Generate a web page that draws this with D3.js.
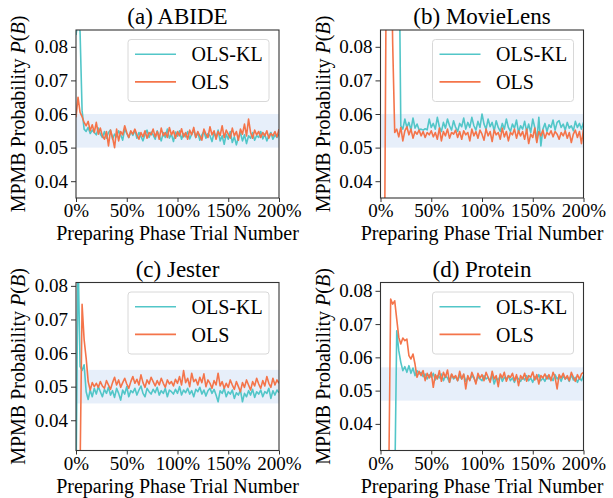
<!DOCTYPE html>
<html>
<head>
<meta charset="utf-8">
<script src="https://cdn.jsdelivr.net/npm/d3@7"></script>
<style>
  body { margin: 0; background: #fff; }
  svg { display: block; font-family: "Liberation Serif", "Times New Roman", serif; }
</style>
</head>
<body>
<div id="vis"></div>
<script>
// trial number as % of preparing phase, one reading every 2%
const trialPct = d3.range(0, 201, 2);
const xTicks = [0, 50, 100, 150, 200];
const seriesNames = ['OLS-KL', 'OLS'];
const titles = ['(a) ABIDE', '(b) MovieLens', '(c) Jester', '(d) Protein'];

// y ranges, shaded bands and ticks per panel
const yDomains = [[0.035, 0.085], [0.035, 0.085], [0.031, 0.081], [0.032, 0.0825]];
const bands = [[0.05, 0.06], [0.05, 0.06], [0.045, 0.055], [0.047, 0.057]];
const yTicks = [0.04, 0.05, 0.06, 0.07, 0.08];

const abideKL = [
  .0835, .0880, .0845, .0610, .0555, .0548, .0560, .0542, .0552, .0545,
  .0538, .0558, .0540, .0530, .0548, .0528, .0545, .0552, .0525, .0540,
  .0532, .0550, .0538, .0522, .0556, .0542, .0530, .0548, .0536, .0552,
  .0528, .0545, .0533, .0520, .0540, .0552, .0530, .0546, .0538, .0525,
  .0550, .0535, .0520, .0545, .0530, .0555, .0528, .0540, .0518, .0546,
  .0534, .0550, .0525, .0542, .0532, .0548, .0526, .0540, .0552, .0530,
  .0545, .0522, .0538, .0548, .0528, .0542, .0535, .0518, .0545, .0530,
  .0552, .0520, .0535, .0510, .0540, .0525, .0548, .0515, .0532, .0508,
  .0530, .0545, .0520, .0538, .0512, .0535, .0528, .0545, .0522, .0536,
  .0530, .0548, .0526, .0540, .0520, .0535, .0545, .0525, .0538, .0530,
  .0540];
const abideOLS = [
  .0590, .0650, .0605, .0592, .0575, .0565, .0578, .0550, .0568, .0545,
  .0575, .0540, .0558, .0535, .0525, .0548, .0505, .0552, .0530, .0500,
  .0555, .0520, .0548, .0538, .0565, .0545, .0530, .0550, .0540, .0555,
  .0538, .0525, .0545, .0532, .0550, .0528, .0545, .0538, .0555, .0532,
  .0548, .0525, .0558, .0535, .0545, .0530, .0560, .0538, .0550, .0528,
  .0548, .0535, .0556, .0532, .0545, .0525, .0552, .0538, .0560, .0530,
  .0548, .0535, .0522, .0555, .0540, .0530, .0562, .0538, .0550, .0525,
  .0548, .0536, .0565, .0530, .0552, .0540, .0528, .0558, .0535, .0548,
  .0522, .0555, .0540, .0570, .0535, .0585, .0545, .0528, .0552, .0538,
  .0548, .0530, .0545, .0535, .0550, .0528, .0542, .0535, .0548, .0532,
  .0555];

const movieKL = [
  .1200, .1200, .1200, .1200, .1200, .1200, .1200, .1200, .1200, .1200,
  .0565, .0555, .0585, .0560, .0575, .0552, .0588, .0558, .0570, .0553,
  .0555, .0552, .0556, .0553, .0585, .0560, .0572, .0555, .0590, .0562,
  .0548, .0575, .0558, .0585, .0565, .0552, .0580, .0560, .0548, .0572,
  .0562, .0588, .0555, .0575, .0560, .0590, .0565, .0552, .0578, .0560,
  .0600, .0570, .0555, .0585, .0562, .0575, .0550, .0580, .0560, .0548,
  .0572, .0555, .0585, .0560, .0548, .0570, .0558, .0582, .0545, .0565,
  .0555, .0578, .0548, .0570, .0545, .0585, .0560, .0520, .0590, .0505,
  .0555, .0572, .0548, .0568, .0560, .0582, .0552, .0575, .0580, .0560,
  .0570, .0552, .0575, .0558, .0565, .0550, .0578, .0560, .0572, .0555,
  .0575];
const movieOLS = [
  .0200, .0200, .0200, .1200, .1200, .1200, .0810, .0545, .0555, .0532,
  .0560, .0520, .0550, .0562, .0538, .0555, .0528, .0548, .0540, .0552,
  .0535, .0548, .0530, .0545, .0538, .0550, .0532, .0545, .0525, .0558,
  .0520, .0548, .0535, .0555, .0528, .0545, .0540, .0552, .0530, .0548,
  .0525, .0550, .0538, .0545, .0520, .0555, .0535, .0548, .0528, .0552,
  .0540, .0522, .0555, .0535, .0548, .0518, .0552, .0538, .0545, .0525,
  .0558, .0532, .0548, .0520, .0545, .0538, .0555, .0528, .0550, .0535,
  .0548, .0525, .0555, .0512, .0540, .0530, .0558, .0515, .0548, .0535,
  .0552, .0528, .0545, .0538, .0550, .0532, .0548, .0540, .0525, .0545,
  .0535, .0550, .0528, .0545, .0515, .0540, .0552, .0530, .0548, .0512,
  .0555];

const jesterKL = [
  .0200, .0900, .0560, .0548, .0565, .0485, .0462, .0490, .0470, .0495,
  .0478, .0500, .0485, .0470, .0492, .0480, .0498, .0475, .0488, .0468,
  .0495, .0480, .0460, .0490, .0478, .0500, .0470, .0488, .0482, .0495,
  .0475, .0490, .0502, .0480, .0470, .0495, .0485, .0478, .0492, .0482,
  .0498, .0475, .0488, .0480, .0495, .0470, .0490, .0485, .0478, .0492,
  .0480, .0500, .0475, .0490, .0482, .0495, .0478, .0488, .0470, .0492,
  .0485, .0498, .0478, .0490, .0472, .0488, .0495, .0480, .0492, .0475,
  .0455, .0488, .0480, .0495, .0470, .0485, .0478, .0490, .0465, .0482,
  .0475, .0490, .0455, .0480, .0470, .0488, .0475, .0492, .0468, .0485,
  .0478, .0490, .0470, .0485, .0480, .0495, .0465, .0488, .0475, .0490,
  .0482];
const jesterOLS = [
  .0200, .0200, .0250, .0745, .0640, .0585, .0515, .0490, .0512, .0500,
  .0510, .0498, .0515, .0502, .0495, .0518, .0505, .0492, .0512, .0528,
  .0505, .0520, .0498, .0512, .0525, .0508, .0495, .0515, .0530, .0510,
  .0522, .0505, .0535, .0512, .0498, .0520, .0508, .0528, .0515, .0502,
  .0518, .0505, .0525, .0510, .0498, .0520, .0508, .0515, .0502, .0522,
  .0510, .0530, .0505, .0548, .0512, .0525, .0500, .0540, .0515, .0522,
  .0505, .0528, .0512, .0538, .0500, .0520, .0510, .0495, .0518, .0505,
  .0540, .0502, .0515, .0495, .0510, .0498, .0520, .0505, .0492, .0515,
  .0500, .0485, .0512, .0498, .0520, .0505, .0490, .0515, .0502, .0525,
  .0508, .0495, .0518, .0502, .0530, .0510, .0498, .0525, .0505, .0520,
  .0510];

const proteinKL = [
  .0200, .0200, .0200, .0200, .0200, .0200, .0200, .0200, .0680, .0620,
  .0585, .0560, .0572, .0555, .0575, .0552, .0568, .0545, .0560, .0550,
  .0555, .0542, .0550, .0535, .0548, .0540, .0552, .0532, .0545, .0538,
  .0550, .0530, .0545, .0538, .0525, .0548, .0535, .0542, .0530, .0545,
  .0535, .0548, .0528, .0540, .0532, .0545, .0538, .0525, .0542, .0535,
  .0530, .0545, .0535, .0540, .0528, .0548, .0520, .0538, .0532, .0545,
  .0528, .0540, .0535, .0545, .0530, .0538, .0525, .0542, .0535, .0528,
  .0540, .0532, .0545, .0530, .0538, .0525, .0542, .0535, .0548, .0530,
  .0538, .0528, .0545, .0535, .0540, .0530, .0548, .0535, .0542, .0528,
  .0545, .0535, .0540, .0528, .0548, .0532, .0540, .0525, .0538, .0530,
  .0545];
const proteinOLS = [
  .0200, .0200, .0200, .0200, .0200, .0775, .0760, .0770, .0715, .0660,
  .0640, .0658, .0650, .0655, .0605, .0595, .0610, .0580, .0540, .0558,
  .0545, .0560, .0530, .0552, .0538, .0555, .0510, .0548, .0535, .0560,
  .0528, .0555, .0540, .0562, .0525, .0550, .0538, .0545, .0530, .0558,
  .0535, .0550, .0505, .0545, .0530, .0555, .0540, .0520, .0552, .0538,
  .0548, .0530, .0555, .0540, .0525, .0558, .0535, .0545, .0512, .0550,
  .0538, .0555, .0528, .0545, .0540, .0552, .0530, .0548, .0515, .0545,
  .0535, .0552, .0528, .0545, .0540, .0556, .0532, .0548, .0520, .0545,
  .0538, .0550, .0535, .0548, .0530, .0555, .0540, .0505, .0548, .0538,
  .0552, .0535, .0545, .0530, .0555, .0540, .0528, .0548, .0535, .0550,
  .0555];

const panelSeries = [
  [abideKL, abideOLS],
  [movieKL, movieOLS],
  [jesterKL, jesterOLS],
  [proteinKL, proteinOLS]
];

const colors = ['#52c6c8', '#f4744a'];

const W = 613, H = 498;
const plotW = 203, plotH = 168;
const lefts = [76, 380.5];
const tops = [30, 282.5];

const svg = d3.select('#vis')
  .append('svg')
  .attr('width', W)
  .attr('height', H);

titles.forEach((title, i) => {
  const left = lefts[i % 2], top = tops[Math.floor(i / 2)];
  const g = svg.append('g').attr('transform', `translate(${left},${top})`);

  const x = d3.scaleLinear().domain([0, 200]).range([0, plotW]);
  const y = d3.scaleLinear().domain(yDomains[i]).range([plotH, 0]);

  // shaded band
  g.append('rect')
    .attr('x', 0)
    .attr('width', plotW)
    .attr('y', y(bands[i][1]))
    .attr('height', y(bands[i][0]) - y(bands[i][1]))
    .attr('fill', '#e7effa');

  g.append('clipPath').attr('id', 'clip' + i)
    .append('rect').attr('width', plotW).attr('height', plotH);

  const line = d3.line()
    .x((d, j) => x(trialPct[j]))
    .y(d => y(d));

  g.append('g')
    .attr('clip-path', `url(#clip${i})`)
    .selectAll('path')
    .data(panelSeries[i])
    .join('path')
    .attr('d', line)
    .attr('fill', 'none')
    .attr('stroke', (d, k) => colors[k])
    .attr('stroke-width', 1.6)
    .attr('stroke-linejoin', 'round');

  // axes
  const yAxis = g.append('g')
    .call(d3.axisLeft(y).tickValues(yTicks).tickFormat(d3.format('.2f')).tickSize(5).tickPadding(3));
  const xAxis = g.append('g')
    .attr('transform', `translate(0,${plotH})`)
    .call(d3.axisBottom(x).tickValues(xTicks).tickFormat(d => d + '%').tickSize(4).tickPadding(2));
  [xAxis, yAxis].forEach(a => {
    a.select('.domain').remove();
    a.selectAll('line').attr('stroke', '#333');
    a.selectAll('text')
      .style('font-family', '"Liberation Serif", serif')
      .style('font-size', '19px')
      .attr('fill', '#000');
  });

  g.append('rect')
    .attr('width', plotW)
    .attr('height', plotH)
    .attr('fill', 'none')
    .attr('stroke', '#333')
    .attr('stroke-width', 1.1);

  // title
  g.append('text')
    .attr('x', plotW / 2)
    .attr('y', -6)
    .attr('text-anchor', 'middle')
    .style('font-size', '23px')
    .attr('fill', '#000')
    .text(title);

  // axis labels
  g.append('text')
    .attr('x', plotW / 2)
    .attr('y', plotH + 42)
    .attr('text-anchor', 'middle')
    .style('font-size', '20px')
    .attr('fill', '#000')
    .text('Preparing Phase Trial Number');

  const yl = g.append('text')
    .attr('transform', `translate(${-left + 18 + (i % 2) * 305},${plotH / 2}) rotate(-90)`)
    .attr('text-anchor', 'middle')
    .attr('dy', '0.35em')
    .style('font-size', '20px')
    .attr('fill', '#000');
  yl.append('tspan').text('MPMB Probability ');
  yl.append('tspan').style('font-style', 'italic').text('P');
  yl.append('tspan').text('(');
  yl.append('tspan').style('font-style', 'italic').text('B');
  yl.append('tspan').text(')');

  // legend
  const lg = g.append('g').attr('transform', 'translate(52,9.5)');
  lg.append('rect')
    .attr('width', 141)
    .attr('height', 62)
    .attr('rx', 3)
    .attr('fill', '#fff')
    .attr('fill-opacity', 0.85)
    .attr('stroke', '#d8d8d8');
  seriesNames.forEach((name, k) => {
    const ly = 14.7 + k * 27.7;
    lg.append('line')
      .attr('x1', 7).attr('x2', 48)
      .attr('y1', ly).attr('y2', ly)
      .attr('stroke', colors[k])
      .attr('stroke-width', 1.6);
    lg.append('text')
      .attr('x', 63.5)
      .attr('y', ly + 7.2)
      .style('font-size', '20px')
      .attr('fill', '#000')
      .text(name);
  });
});
</script>
</body>
</html>
